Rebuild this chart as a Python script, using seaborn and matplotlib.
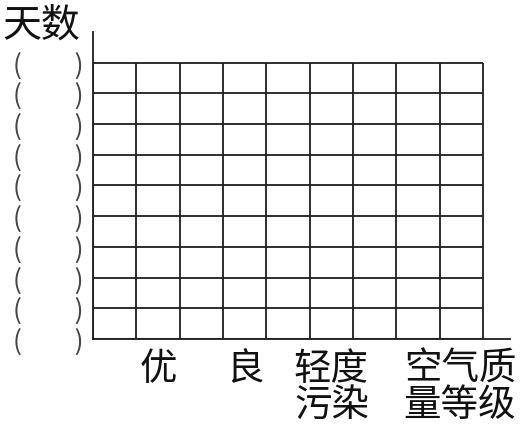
import matplotlib
matplotlib.use('Agg')
import matplotlib.pyplot as plt
import seaborn as sns

#%% Data: blank worksheet grid for air-quality day counts

x_labels = ['优', '良', '轻度\n污染']
x_label_pos = [1.5, 3.5, 5.5]
n_cols = 9
n_rows = 9
y_ticks = list(range(n_rows + 1))
y_tick_labels = ['(\u3000\u3000)'] * len(y_ticks)

#%% Style

sns.set_theme(style='white')
plt.rcParams['font.family'] = ['Noto Sans CJK SC', 'DejaVu Sans']

line_col = '#1e1e1e'

fig = plt.figure(figsize=(5.2, 4.25), dpi=100)
ax = fig.add_axes([93 / 520, (425 - 339) / 425, 417 / 520, 307 / 425])

# Grid cells, only over the 9 x 9 area
ax.hlines(y_ticks, 0, n_cols, color=line_col, lw=1.3)
ax.vlines(range(n_cols + 1), 0, n_rows, color=line_col, lw=1.3)

ax.set_xlim(0, 9.62)
ax.set_ylim(0, 10.0)

# Axes: only left and bottom
sns.despine(ax=ax)
for s in ['left', 'bottom']:
    ax.spines[s].set_color(line_col)
    ax.spines[s].set_linewidth(1.3)

ax.set_xticks(x_label_pos)
ax.set_xticklabels(x_labels, fontsize=27, linespacing=0.9, color='#111111')
ax.set_yticks(y_ticks)
ax.set_yticklabels(y_tick_labels, fontsize=19, color='#444444')
ax.tick_params(axis='both', length=0)
ax.tick_params(axis='x', pad=8)
ax.tick_params(axis='y', pad=7)

ax.set_xlabel('空气质\n量等级', fontsize=27, linespacing=0.9, color='#111111', ha='center', va='top')
ax.xaxis.set_label_coords(0.88, -0.035)

ax.set_ylabel('天数', fontsize=28, rotation=0, ha='left', va='top', color='#111111')
ax.yaxis.set_label_coords(-0.218, 1.083)

fig.savefig('out.png', dpi=100)
